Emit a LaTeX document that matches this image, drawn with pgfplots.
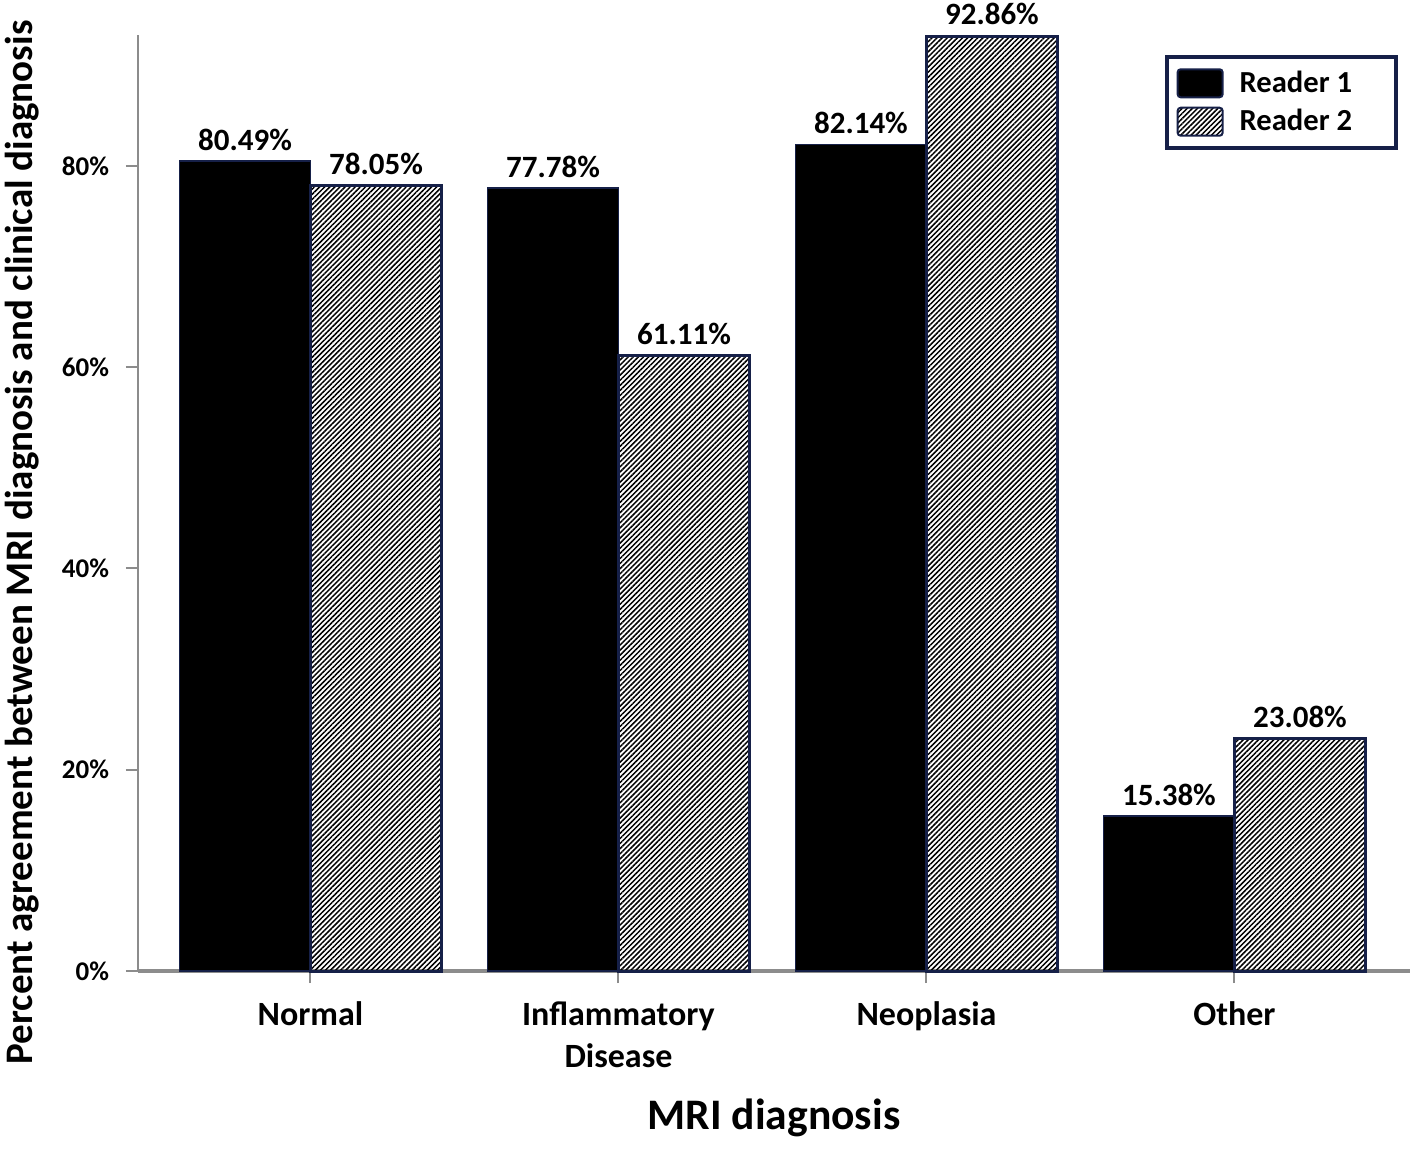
\documentclass[border=0pt]{standalone}
\usepackage{pgfplots}
\pgfplotsset{compat=1.18}
\usetikzlibrary{patterns.meta}
\usepackage{fontspec}
\setmainfont{Carlito}
\definecolor{navy}{RGB}{22,32,72}
\definecolor{axgray}{RGB}{140,140,140}
\begin{document}
\begin{tikzpicture}
\useasboundingbox (-69pt,-88.5pt) rectangle (639.5pt,485.5pt);
\begin{axis}[
  at={(0pt,0pt)}, anchor=south west,
  scale only axis, width=636pt, height=468pt,
  xmin=-0.56, xmax=3.57, ymin=0, ymax=93,
  ybar=0pt, bar width=65.5pt,
  clip=false,
  axis lines=left,
  axis line style={axgray, line width=1pt},
  x axis line style={line width=2pt, -},
  y axis line style={-},
  xtick={0,1,2,3},
  xticklabels={Normal,{Inflammatory\\Disease},Neoplasia,Other},
  xticklabel style={align=center, font=\fontsize{17}{21}\selectfont\bfseries, yshift=-6pt},
  ytick={0,20,40,60,80},
  yticklabels={0\%,20\%,40\%,60\%,80\%},
  yticklabel style={font=\fontsize{13.5}{15}\selectfont\bfseries, xshift=-5pt},
  tick align=outside,
  major tick length=6pt,
  tick style={axgray, line width=1pt},
  xlabel={MRI diagnosis},
  xlabel style={at={(axis description cs:0.5,-0.157)}, anchor=center, font=\fontsize{21.8}{25}\selectfont\bfseries},
  ylabel={Percent agreement between MRI diagnosis and clinical diagnosis},
  ylabel style={at={(axis description cs:-0.0912,0.458)}, anchor=center, font=\fontsize{19.5}{22}\selectfont\bfseries},
  nodes near coords,
  point meta=explicit symbolic,
  every node near coord/.append style={font=\fontsize{15.5}{18}\selectfont\bfseries, yshift=1.5pt},
  legend style={at={(axis description cs:0.9906,0.9786)}, anchor=north east,
    draw=navy, line width=2pt, font=\fontsize{15.3}{18}\selectfont\bfseries,
    row sep=3pt, inner xsep=5pt, inner ysep=5pt},
  legend cell align=left,
  legend image code/.code={\draw[#1, line width=1pt, rounded corners=1.5pt] (0pt,-7pt) rectangle (22.5pt,7pt);},
]
\addplot[fill=black, draw=navy, line width=0.8pt] coordinates {
  (0,80.49) [80.49\%]
  (1,77.78) [77.78\%]
  (2,82.14) [82.14\%]
  (3,15.38) [15.38\%]
};
\addlegendentry{\hspace*{6pt}Reader 1\rule{15pt}{0pt}}
\addplot[pattern={Lines[angle=45,distance=1.8pt,line width=0.75pt]}, pattern color=black, draw=navy, line width=1.5pt] coordinates {
  (0,78.05) [78.05\%]
  (1,61.11) [61.11\%]
  (2,92.86) [92.86\%]
  (3,23.08) [23.08\%]
};
\addlegendentry{\hspace*{6pt}Reader 2\rule{15pt}{0pt}}
\end{axis}
\end{tikzpicture}
\end{document}
